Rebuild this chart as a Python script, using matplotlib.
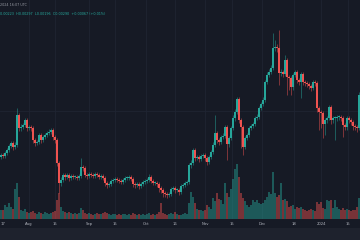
import numpy as np
import matplotlib
matplotlib.use("Agg")
import matplotlib.pyplot as plt
from matplotlib.transforms import blended_transform_factory

# Daily candles (price in units of 1e-5), Jul 2023 -> Jan 2024
first_open = 63
close = [65,64,67,70,74,77,73,75,105,92,
         93,95,100,92,93,92,80,77,78,85,
         80,83,85,87,88,90,83,80,57,37,
         40,45,43,45,42,44,43,43,42,44,
         53,52,45,44,46,45,44,46,45,43,
         44,42,37,35,36,39,40,41,40,39,
         38,40,42,42,43,41,36,35,36,34,
         36,38,39,40,43,39,37,37,36,32,
         30,27,26,25,26,31,32,30,30,28,
         34,35,37,38,55,57,70,62,63,61,
         64,65,62,58,63,68,75,87,80,78,
         83,84,93,76,82,92,102,108,121,100,
         93,73,82,85,92,94,96,102,103,112,
         116,120,138,145,148,152,172,173,172,147,
         148,146,160,143,142,133,145,148,140,138,
         146,138,137,136,134,132,138,137,112,108,
         107,96,100,102,113,100,102,102,103,103,
         102,95,93,102,100,98,94,93,92,125]
high = [67,67,69,72,76,79,79,78,112,107,
        96,97,102,102,95,95,94,82,80,87,
        87,85,87,89,91,92,92,85,82,59,
        43,47,47,47,47,46,46,45,45,46,
        62,55,54,47,48,48,47,48,48,47,
        46,46,44,39,38,41,42,43,43,42,
        41,42,44,44,45,45,43,38,38,38,
        38,40,41,42,46,45,41,39,39,38,
        34,32,29,28,28,33,34,34,32,32,
        36,37,39,40,57,60,72,72,65,65,
        66,67,67,64,65,70,78,105,89,82,
        85,87,95,95,84,94,105,111,123,123,
        102,95,84,87,94,96,98,104,106,114,
        118,123,140,148,151,155,187,180,176,190,
        151,150,165,162,145,144,147,150,150,142,
        148,148,140,139,138,136,140,140,139,114,
        110,109,102,104,115,115,104,104,105,105,
        105,104,97,104,104,102,100,96,95,128]
low = [61,62,62,65,68,72,70,71,73,89,
       89,91,93,89,90,89,77,74,75,76,
       77,78,81,83,85,86,80,77,54,27,
       34,38,40,41,39,40,41,41,40,40,
       42,49,43,41,42,43,42,42,43,41,
       41,40,34,32,33,34,37,38,38,37,
       36,36,38,40,40,39,33,32,33,31,
       32,34,36,37,38,37,35,35,33,28,
       27,23,23,22,23,24,29,27,28,25,
       26,32,33,35,36,52,55,59,60,58,
       59,62,59,55,56,61,66,73,77,75,
       76,81,82,60,73,80,90,99,106,97,
       72,65,71,80,83,90,92,94,100,101,
       110,114,118,136,143,146,150,169,168,135,
       144,143,144,125,130,125,130,143,137,135,
       122,135,134,133,131,129,130,134,108,90,
       92,82,85,97,100,96,97,80,99,100,
       99,83,90,90,97,95,90,90,88,90]
volume = [9,9,14,12,16,12,10,30,36,22,
          9,8,10,7,6,7,8,6,5,7,
          6,5,7,6,5,6,7,8,19,26,
          12,8,7,6,7,6,5,6,5,6,
          11,9,6,5,6,5,4,5,6,5,
          5,6,7,6,5,4,5,5,4,5,
          4,5,5,4,5,4,6,5,4,5,
          4,5,4,5,6,4,5,4,5,7,
          16,6,5,4,5,6,5,7,5,4,
          4,5,6,5,16,27,22,16,10,9,
          9,8,9,14,12,10,21,18,26,20,
          19,15,36,26,22,30,40,50,55,42,
          26,21,18,14,12,14,19,17,19,16,
          15,16,19,22,27,25,47,26,22,24,
          36,19,20,18,12,13,14,10,12,11,
          12,10,9,8,9,10,9,8,17,15,
          17,11,10,19,18,19,11,19,12,10,
          9,11,9,10,9,8,9,9,12,21]
tick_labels = ["17", "Aug", "15", "Sep", "15", "Oct", "16", "Nov", "15", "Dec", "18", "2024", "15"]
tick_pos = [0.8, 14, 27, 44, 57, 72.5, 87, 102, 115.5, 130.5, 146.5, 160, 173.5]
header_time = "2024 16:07 UTC"
header_ohlc = "0.00223  H0.00297  L0.00196  C0.00290  +0.00067 (+0.01%)"

UP = "#26a69a"
DOWN = "#ef5350"
BG = "#161a25"
GRID = "#1f2432"

close = np.array(close, float)
high = np.array(high, float)
low = np.array(low, float)
opens = np.r_[first_open, close[:-1]].astype(float)
vol = np.array(volume, float)
x = np.arange(len(close))
up = close >= opens
colors = np.where(up, UP, DOWN)

fig = plt.figure(figsize=(3.6, 2.4), dpi=100, facecolor=BG)
fig.add_artist(plt.Rectangle((0, 0), 1, 12/240, transform=fig.transFigure,
                             facecolor="#1e222d", edgecolor="none", zorder=0))

axv = fig.add_axes([0, 21/240, 1, 219/240])
axv.set_facecolor(BG)
ax = axv.twinx()
ax.set_facecolor("none")

# volume
vcol = [(0.149, 0.651, 0.604, 0.45) if u else (0.937, 0.325, 0.314, 0.45) for u in up]
axv.bar(x, vol, width=0.8, color=vcol, linewidth=0)
axv.set_ylim(0, 219)

# grid
for p in tick_pos[1:]:
    axv.axvline(p, color=GRID, lw=0.6, zorder=0)
ax.axhline(109, color=GRID, lw=0.6, zorder=0)

# candles
body_lo = np.minimum(opens, close)
body_h = np.maximum(np.abs(close - opens), 0.6)
ax.vlines(x, low, high, colors=colors, lw=0.45, alpha=0.75)
ax.bar(x, body_h, bottom=body_lo, width=0.72, color=colors, linewidth=0)
ax.set_ylim(1, 220)

for a in (ax, axv):
    a.set_xlim(-0.5, len(close) - 0.5)
    a.set_xticks([])
    a.set_yticks([])
    for s in a.spines.values():
        s.set_visible(False)

tr = blended_transform_factory(axv.transData, fig.transFigure)
for p, lab in zip(tick_pos, tick_labels):
    axv.text(p, 1 - 224/240, lab, transform=tr, ha="center", va="center",
             fontsize=2.7, color="#b2b5be", clip_on=False)

fig.text(0.5/360, 1 - 5/240, header_time, fontsize=2.4, color="#9598a1",
         ha="left", va="center")
fig.text(0.5/360, 1 - 14/240, header_ohlc, fontsize=2.4, color=UP,
         ha="left", va="center")

fig.savefig("out.png", dpi=100, facecolor=BG)
